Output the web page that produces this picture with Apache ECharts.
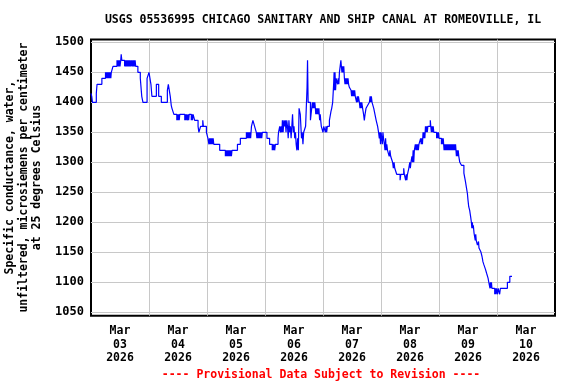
<!DOCTYPE html>
<html>
<head>
<meta charset="utf-8">
<script src="https://cdn.jsdelivr.net/npm/echarts@6/dist/echarts.min.js"></script>
<style>
html,body{margin:0;padding:0;background:#fff;}
#chart{width:576px;height:384px;}
</style>
</head>
<body>
<div id="chart"></div>
<script>
// Hours since 2026-03-03 00:00, specific conductance (uS/cm)
const mar03 = [[0,1415],[0.3,1410],[0.6,1400],[2.2,1415],[2.5,1430],[4.5,1440],
[6.0,1450],[6.25,1440],[6.5,1450],[6.75,1440],[7.0,1450],[7.25,1440],[7.5,1450],[7.75,1440],[8.0,1450],[8.2,1440],
[8.4,1450],[9.1,1460],
[10.75,1470],[11.0,1460],[11.25,1470],[11.5,1460],[11.75,1470],[12.0,1460],
[12.3,1470],[12.5,1480],[12.75,1470],
[13.9,1460],[14.15,1470],[14.4,1460],[14.65,1470],[14.9,1460],[15.15,1470],[15.4,1460],[15.65,1470],[15.9,1460],[16.15,1470],[16.4,1460],
[16.7,1470],
[17.0,1460],[17.25,1470],[17.5,1460],[17.75,1470],[18.0,1460],[18.25,1470],
[18.5,1460],[19.4,1450],[20.4,1440],[21.0,1410],[21.5,1400],[23.2,1440]];
const mar04 = [[24.0,1450],[24.4,1440],[24.8,1430],[25.2,1410],[27.05,1430],[28.0,1410],[29.1,1400],
[31.6,1420],[32.0,1430],[32.4,1420],[32.8,1410],[33.2,1395],[33.5,1390],[33.9,1385],[34.3,1380],
[35.5,1370],[35.75,1380],[36.0,1370],[36.25,1380],[36.5,1370],[36.75,1380],
[38.8,1370],[39.05,1380],[39.3,1370],[39.55,1380],
[39.9,1370],[40.15,1380],[40.4,1370],[40.65,1380],
[41.5,1370],[41.75,1380],[42.0,1370],[42.25,1380],
[42.9,1370],[44.3,1360],[44.65,1350],[45.35,1360],[46.25,1370],[46.5,1360],[47.75,1350]];
const mar05 = [[48.4,1340],[48.8,1330],[49.05,1340],[49.3,1330],[49.55,1340],[49.8,1330],[50.05,1340],[50.3,1330],[50.55,1340],
[50.8,1330],[53.25,1320],
[55.6,1310],[55.85,1320],[56.1,1310],[56.35,1320],[56.6,1310],[56.85,1320],[57.1,1310],[57.35,1320],[57.6,1310],[57.85,1320],[58.1,1310],[58.35,1320],
[60.6,1330],[61.8,1340],
[64.3,1350],[64.55,1340],[64.8,1350],[65.05,1340],[65.3,1350],[65.55,1340],[65.8,1350],[66.05,1340],
[66.4,1360],[67.0,1370],[67.7,1360],
[68.4,1350],[68.65,1340],[68.9,1350],[69.15,1340],[69.4,1350],[69.65,1340],[69.9,1350],[70.15,1340],[70.4,1350],[70.65,1340],[70.9,1350]];
const mar06 = [[72.8,1340],[73.9,1330],
[75.0,1320],[75.25,1330],[75.5,1320],[75.75,1330],[76.0,1320],
[76.3,1330],[77.4,1340],[77.6,1350],[78.1,1360],
[78.4,1350],[78.7,1360],[79.0,1350],[79.2,1370],[79.5,1350],[79.8,1370],[80.1,1360],[80.4,1370],[80.7,1350],[81.0,1370],[81.3,1360],[81.6,1340],[81.9,1370],[82.2,1350],[82.5,1360],[82.8,1340],[83.1,1360],[83.4,1380],[83.7,1350],[84.0,1360],[84.3,1340],[84.6,1350],[84.9,1330],[85.2,1320],[85.5,1340],[85.8,1320],
[86.1,1390],[86.6,1380],[87.1,1340],[87.4,1350],[87.7,1330],[88.0,1350],[88.8,1360],
[89.4,1425],[89.6,1470],[89.85,1400],[90.8,1370],
[91.6,1400],[91.85,1390],[92.1,1400],[92.35,1390],[92.6,1400],[92.85,1390],
[93.0,1380],[93.25,1390],[93.5,1380],[93.75,1390],[94.0,1380],[94.3,1390],
[94.6,1370],[94.85,1380],[95.05,1370],
[95.3,1360]];
const mar07 = [[96.0,1350],[96.3,1360],[97.0,1350],[97.25,1360],[97.5,1350],[97.8,1360],
[98.65,1370],[99.3,1385],[99.6,1390],[100.0,1400],[100.4,1430],[100.6,1450],[100.75,1420],[100.97,1450],[101.2,1420],[101.45,1440],
[101.8,1440],[102.05,1430],[102.3,1440],[102.55,1430],[102.8,1450],[103.1,1460],[103.4,1470],[103.6,1460],[103.85,1450],[104.1,1460],[104.35,1450],[104.6,1460],
[104.85,1440],[105.1,1430],[105.35,1440],[105.6,1430],[105.85,1440],[106.1,1430],[106.35,1440],[106.6,1430],[106.9,1425],
[107.6,1420],[107.85,1410],[108.1,1420],[108.35,1410],[108.6,1420],[108.85,1410],[109.1,1420],[109.35,1410],
[109.9,1400],[110.15,1410],[110.4,1400],[110.65,1410],[111.06,1400],[111.3,1390],[111.55,1400],[111.8,1390],[112.05,1400],
[112.4,1390],[112.8,1380],[113.1,1370],[113.4,1380],[113.8,1390],[114.5,1395],[115.2,1400],[115.5,1410],[115.75,1400],[116.0,1410],[116.3,1400],
[117.0,1390],[117.5,1380],[118.0,1370],[118.6,1360],[119.0,1350],[119.3,1340],[119.55,1350],[119.8,1330]];
const mar08 = [[120.05,1350],[120.3,1340],[120.55,1330],[120.8,1350],[121.05,1340],[121.4,1330],[121.65,1320],[121.9,1340],[122.15,1320],[122.4,1330],[122.7,1320],
[123.1,1320],[123.4,1310],[123.7,1320],[124.0,1310],[124.8,1300],[125.1,1290],[125.4,1300],[125.7,1290],[126.5,1280],
[127.9,1270],[128.2,1280],[129.4,1290],[129.65,1280],[130.2,1270],[130.45,1280],[130.7,1270],[130.95,1280],
[131.5,1290],[131.9,1300],[132.15,1290],[132.4,1300],[132.8,1310],[133.05,1300],[133.3,1320],[133.55,1300],[133.8,1320],
[134.2,1330],[134.45,1320],[134.7,1330],[134.95,1320],[135.2,1330],[135.45,1320],[135.7,1330],
[136.4,1340],[136.65,1330],[136.9,1340],[137.15,1330],[137.4,1350],[137.65,1340],[137.9,1350],[138.15,1340],
[138.4,1360],[138.65,1350],[138.9,1360],[139.15,1350],[139.4,1360],
[140.4,1370],[140.6,1360],[140.85,1350],[141.1,1360],[141.35,1350],[141.6,1360],[141.85,1350],
[143.0,1340],[143.25,1350],[143.5,1340],[143.75,1350],[144.0,1340]];
const mar09 = [[145.0,1330],[145.25,1340],[145.5,1330],[145.75,1340],
[146.1,1320],[146.35,1330],[146.6,1320],[146.85,1330],[147.1,1320],[147.35,1330],[147.6,1320],[147.85,1330],
[148.1,1320],[148.35,1330],[148.6,1320],[148.85,1330],[149.1,1320],[149.35,1330],[149.6,1320],[149.85,1330],[150.1,1320],[150.35,1330],[150.6,1320],[150.85,1330],
[151.2,1310],[151.45,1320],[151.7,1310],[151.95,1320],[152.2,1310],[152.6,1300],[153.3,1295],
[154.3,1282],[154.9,1269],[155.3,1259],[155.75,1248],[156.0,1237],[156.3,1226],[156.7,1220],[157.1,1209],
[157.4,1200],[157.6,1190],[157.8,1200],[158.0,1190],[158.2,1195],[158.5,1182],[158.8,1180],[159.0,1170],[159.2,1180],[159.4,1170],
[159.9,1162],[160.1,1160],[160.35,1168],[160.55,1157],[161.3,1151],[161.8,1143],[162.2,1134],[162.6,1129],[163.2,1122],[163.7,1115],[164.3,1107],[164.7,1098],
[165.1,1090],[165.3,1100],[165.5,1090],[165.7,1100],[165.9,1090],
[167.05,1080],[167.3,1090],[167.55,1080],[167.8,1090]];
const mar10 = [[168.2,1080],[168.5,1090],[169.1,1080],[169.4,1090],[172.3,1100],[173.3,1110],[174.2,1110]];

const dayLabels = ['Mar\n03\n2026','Mar\n04\n2026','Mar\n05\n2026','Mar\n06\n2026','Mar\n07\n2026','Mar\n08\n2026','Mar\n09\n2026','Mar\n10\n2026'];
const yMin = 1044.3, yMax = 1504.7;
const titleText = 'USGS 05536995 CHICAGO SANITARY AND SHIP CANAL AT ROMEOVILLE, IL';
const yName = 'Specific conductance, water,\nunfiltered, microsiemens per centimeter\nat 25 degrees Celsius';
const footer = '---- Provisional Data Subject to Revision ----';

const series = [].concat(mar03, mar04, mar05, mar06, mar07, mar08, mar09, mar10);
const FONT = 'DejaVu Sans Mono';

const chart = echarts.init(document.getElementById('chart'), null, {renderer:'canvas'});
chart.setOption({
  animation: false,
  backgroundColor: '#fff',
  grid: {left: 91, right: 21, top: 39.5, bottom: 68.3, show: true, borderColor: '#000', borderWidth: 2,
    backgroundColor: 'transparent', containLabel: false, outerBoundsMode: 'none'},
  graphic: [
    {type: 'text', x: 323, y: 20, style: {text: titleText, font: 'bold 11.5px "' + FONT + '"', fill: '#000', textAlign: 'center', textVerticalAlign: 'middle'}},
    {type: 'text', x: 321, y: 375, style: {text: footer, font: 'bold 11.5px "' + FONT + '"', fill: '#ff0000', textAlign: 'center', textVerticalAlign: 'middle'}}
  ],
  xAxis: [
    {type: 'value', min: 0, max: 192, interval: 24,
     axisLine: {show: false}, axisTick: {show: false}, axisLabel: {show: false},
     splitLine: {show: true, showMinLine: false, showMaxLine: false, lineStyle: {color: '#c8c8c8', width: 1}}},
    {type: 'category', data: dayLabels, boundaryGap: true, position: 'bottom',
     axisLine: {show: false}, axisTick: {show: false}, splitLine: {show: false},
     axisLabel: {show: true, interval: 0, margin: 9, color: '#000', fontFamily: FONT, fontWeight: 'bold', fontSize: 11.5, lineHeight: 13.5}}
  ],
  yAxis: {type: 'value', min: yMin, max: yMax, splitNumber: 9,
    name: yName, nameLocation: 'middle', nameRotate: 90, nameGap: 41,
    nameTextStyle: {color: '#000', fontFamily: FONT, fontWeight: 'bold', fontSize: 11.5, lineHeight: 13.5, align: 'center'},
    axisLine: {show: false}, axisTick: {show: false},
    axisLabel: {margin: 7, color: '#000', fontFamily: FONT, fontWeight: 'bold', fontSize: 12,
      formatter: v => (Math.abs(v % 50) < 1e-6 ? String(v) : '')},
    splitLine: {show: true, showMinLine: false, showMaxLine: false, lineStyle: {color: '#c8c8c8', width: 1}}},
  series: [{type: 'line', xAxisIndex: 0, data: series, step: 'end', showSymbol: false, symbol: 'none',
    lineStyle: {color: '#0000ff', width: 1.2}, z: 3}]
});
</script>
</body>
</html>
